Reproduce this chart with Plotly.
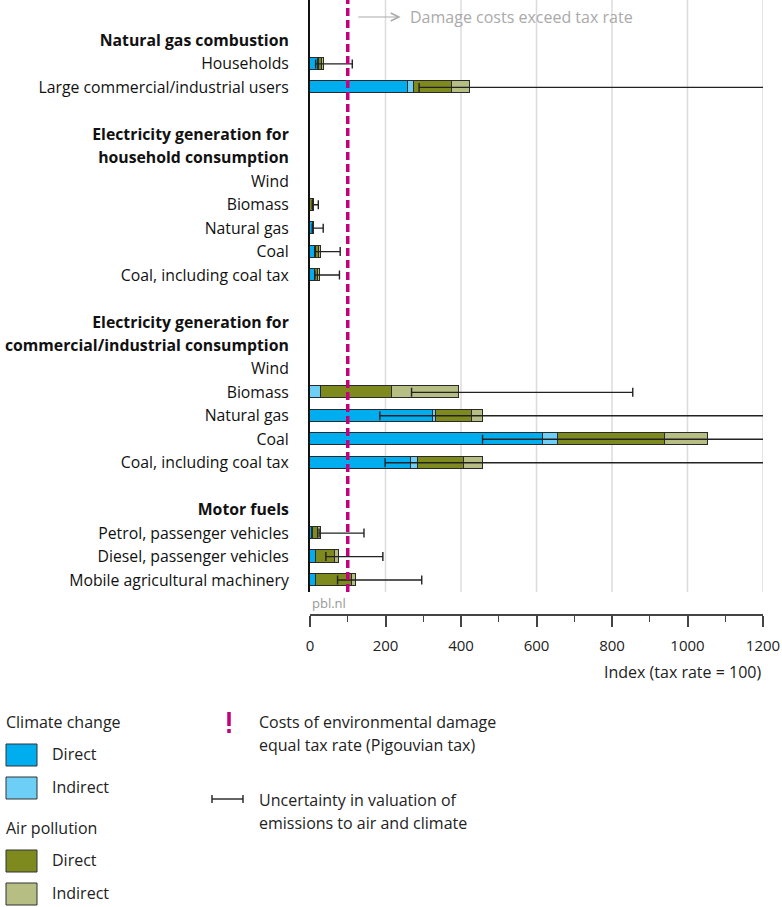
import plotly.graph_objects as go

# ---------------- data ----------------
row_labels = [
    "",
    "<b>Natural gas combustion</b>",
    "Households",
    "Large commercial/industrial users",
    "",
    "<b>Electricity generation for</b>",
    "<b>household consumption</b>",
    "Wind",
    "Biomass",
    "Natural gas",
    "Coal",
    "Coal, including coal tax",
    "",
    "<b>Electricity generation for</b>",
    "<b>commercial/industrial consumption</b>",
    "Wind",
    "Biomass",
    "Natural gas",
    "Coal",
    "Coal, including coal tax",
    "",
    "<b>Motor fuels</b>",
    "Petrol, passenger vehicles",
    "Diesel, passenger vehicles",
    "Mobile agricultural machinery",
]
N = None
climate_direct   = [N, N, 22, 259, N, N, N, 0.5, 0, 9, 13, 12, N, N, N, 0.5, 0, 325, 616, 267, N, N, 6, 15, 15]
climate_indirect = [N, N, 3, 16, N, N, N, 0, 1, 1, 2, 2, N, N, N, 0, 28, 10, 42, 18, N, N, 2, 2, 2]
air_direct       = [N, N, 8, 100, N, N, N, 0, 8, 1, 9, 8, N, N, N, 0, 188, 94, 282, 123, N, N, 14, 49, 93]
air_indirect     = [N, N, 4, 50, N, N, N, 0, 2, 0.5, 4, 4, N, N, N, 0, 178, 28, 115, 49, N, N, 6, 12, 13]
unc_low          = [N, N, 15, 289, N, N, N, N, 6, 6, 14, 13, N, N, N, N, 269, 185, 457, 199, N, N, 24, 42, 73]
unc_high         = [N, N, 112, 1250, N, N, N, N, 22, 35, 80, 78, N, N, N, N, 855, 1250, 1250, 1250, N, N, 143, 193, 296]
x_ticks = [0, 200, 400, 600, 800, 1000, 1200]
tax_rate_index = 100

rows = list(range(len(row_labels)))

C_DIR = "#00AEEF"
C_IND = "#6DCFF6"
A_DIR = "#7F8A1E"
A_IND = "#B6BE84"
PINK = "#C4007A"
EDGE = "#2a2a2a"
FONT = "Open Sans"

# ---------------- geometry helpers ----------------
W, H = 782, 907
ML, MR, MT = 310, 19, 0
AX_Y = 615          # pixel y of x-axis line (paper y = 0)
PLOT_BOTTOM = 592   # pixel y of plot-area bottom
MB = H - AX_Y
PW = W - ML - MR
PH = H - MT - MB


def px(xp):
    return (xp - ML) / PW


def py(yp):
    return (AX_Y - yp) / PH


fig = go.Figure()

for vals, col in [(climate_direct, C_DIR), (climate_indirect, C_IND),
                  (air_direct, A_DIR), (air_indirect, A_IND)]:
    fig.add_trace(go.Bar(
        x=vals, y=rows, orientation="h", width=0.52,
        marker=dict(color=col, line=dict(color=EDGE, width=1.4)),
        showlegend=False, hoverinfo="skip"))

err_plus = [(h - l) if (h is not None and l is not None) else None for l, h in zip(unc_low, unc_high)]
fig.add_trace(go.Scatter(
    x=unc_low, y=rows, mode="markers",
    marker=dict(size=1, opacity=0),
    error_x=dict(type="data", symmetric=False, array=err_plus,
                 arrayminus=[0 if v is not None else None for v in unc_low],
                 color="#222222", thickness=1.4, width=4.5),
    showlegend=False, hoverinfo="skip"))

shapes = []
# grid lines
for t in x_ticks[1:]:
    shapes.append(dict(type="line", xref="x", yref="y domain", x0=t, x1=t, y0=0, y1=1,
                       line=dict(color="#dcdcdc", width=1.5), layer="below"))
# Pigouvian tax line
shapes.append(dict(type="line", xref="x", yref="y domain", x0=tax_rate_index, x1=tax_rate_index,
                   y0=0, y1=1, line=dict(color=PINK, width=3.5, dash="8px,4px"), layer="above"))

annotations = []
# top arrow + text
annotations.append(dict(x=240, y=0, xref="x", yref="y", ax=124, ay=0, axref="x", ayref="y",
                        text="", showarrow=True, arrowhead=5, arrowsize=1.6, arrowwidth=1,
                        arrowcolor="#aaaaaa"))
annotations.append(dict(x=259, y=0, xref="x", yref="y", text="Damage costs exceed tax rate",
                        showarrow=False, xanchor="left", yanchor="middle",
                        font=dict(family=FONT, size=16, color="#aaaaaa")))
annotations.append(dict(x=0, y=py(603), xref="paper", yref="paper", text="pbl.nl",
                        showarrow=False, xanchor="left", yanchor="middle",
                        font=dict(family=FONT, size=13, color="#999999")))
annotations.append(dict(x=1, y=py(672), xref="paper", yref="paper", text="Index (tax rate = 100)",
                        showarrow=False, xanchor="right", yanchor="middle",
                        font=dict(family=FONT, size=16, color="#222222")))


def text_at(xp, yp, s):
    annotations.append(dict(x=px(xp), y=py(yp), xref="paper", yref="paper", text=s,
                            showarrow=False, xanchor="left", yanchor="middle",
                            font=dict(family=FONT, size=16, color="#222222")))


def square(yc, col):
    shapes.append(dict(type="rect", xref="paper", yref="paper",
                       x0=px(6), x1=px(37), y0=py(yc + 11), y1=py(yc - 11),
                       fillcolor=col, line=dict(color="#333333", width=1)))


text_at(4, 722, "Climate change")
square(755, C_DIR); text_at(50, 754, "Direct")
square(788, C_IND); text_at(50, 787, "Indirect")
text_at(4, 828, "Air pollution")
square(861, A_DIR); text_at(50, 860, "Direct")
square(894, A_IND); text_at(50, 893, "Indirect")

# pink legend marker
shapes.append(dict(type="line", xref="paper", yref="paper", x0=px(229), x1=px(229),
                   y0=py(712), y1=py(733), line=dict(color=PINK, width=3.5, dash="14px,3px")))
text_at(257, 722, "Costs of environmental damage")
text_at(257, 745, "equal tax rate (Pigouvian tax)")

# uncertainty legend marker
shapes.append(dict(type="line", xref="paper", yref="paper", x0=px(212), x1=px(243),
                   y0=py(799), y1=py(799), line=dict(color="#222222", width=1.4)))
for xx in (212, 243):
    shapes.append(dict(type="line", xref="paper", yref="paper", x0=px(xx), x1=px(xx),
                       y0=py(795), y1=py(803), line=dict(color="#222222", width=1.4)))
text_at(257, 800, "Uncertainty in valuation of")
text_at(257, 823, "emissions to air and climate")

row_px = 23.46
top_val = -17 / row_px
bot_val = top_val + PLOT_BOTTOM / row_px

fig.update_layout(
    width=W, height=H,
    margin=dict(l=ML, r=MR, t=MT, b=MB, pad=0),
    paper_bgcolor="white", plot_bgcolor="white",
    barmode="stack", bargap=0,
    font=dict(family=FONT, size=16, color="#111111"),
    shapes=shapes, annotations=annotations,
    xaxis=dict(range=[0, 1200], tickvals=x_ticks, ticktext=[str(t) for t in x_ticks],
               anchor="free", position=0, showgrid=False, zeroline=False,
               showline=True, linecolor="#444444", linewidth=1.5,
               ticks="outside", ticklen=11, tickwidth=1.5, tickcolor="#444444",
               minor=dict(dtick=100, tick0=0, ticks="outside", ticklen=6, tickwidth=1.2,
                          tickcolor="#444444", showgrid=False),
               ticklabelstandoff=6,
               tickfont=dict(family=FONT, size=15, color="#222222"), fixedrange=True),
    yaxis=dict(range=[bot_val, top_val], domain=[(AX_Y - PLOT_BOTTOM) / PH, 1],
               tickvals=rows[1:], ticktext=row_labels[1:],
               showgrid=False, zeroline=False, showline=True, linecolor="#111111",
               linewidth=2, ticks="", ticklabelstandoff=16,
               tickfont=dict(family=FONT, size=15.8, color="#111111"), fixedrange=True),
)

fig.write_html("out.html")
